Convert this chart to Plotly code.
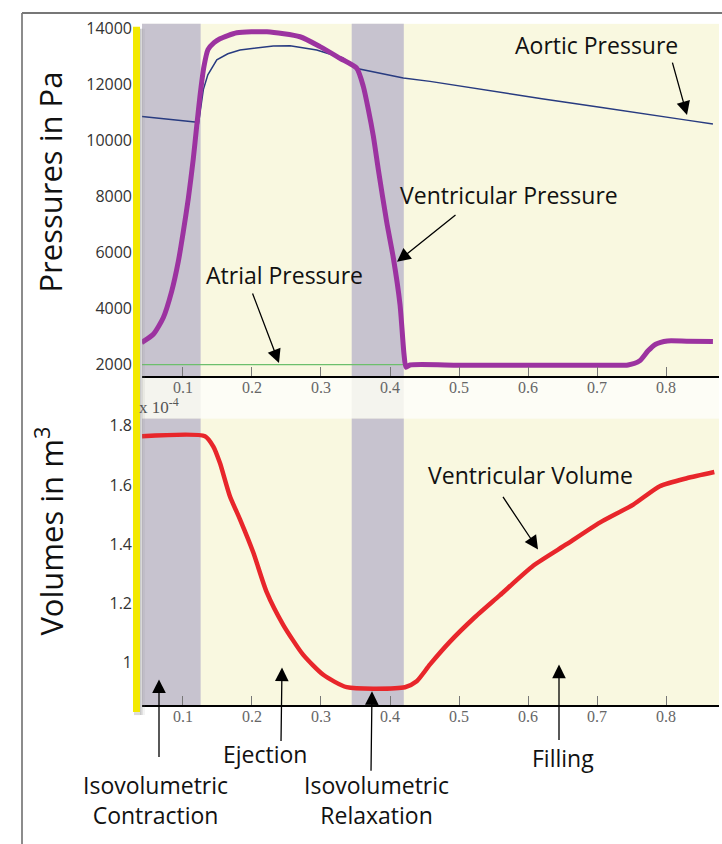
import plotly.graph_objects as go

# ---------------- data ----------------
# time in s
t_vent_p = [0.0401, 0.057, 0.0714, 0.0836, 0.0932, 0.1004, 0.1077, 0.1149, 0.1199, 0.1246,
            0.1304, 0.1362, 0.145, 0.1536, 0.178, 0.2217, 0.2696, 0.2986, 0.3275, 0.3517,
            0.3613, 0.3686, 0.3758, 0.3831, 0.3952, 0.4048, 0.4145, 0.4203, 0.4232,
            0.429, 0.50, 0.60, 0.70, 0.745, 0.762, 0.774, 0.785, 0.802, 0.83, 0.868]
vent_pressure = [2792, 3086, 3677, 4619, 5681, 6743, 7925, 9341, 10520, 11582,
                 12644, 13246, 13494, 13636, 13848, 13883, 13706, 13352, 12938, 12584,
                 11936, 11111, 10166, 8967, 7097, 5818, 4148, 2378, 1907,
                 1990, 1985, 1985, 1985, 1990, 2140, 2495, 2732, 2849, 2840, 2828]

t_aortic = [0.0377, 0.0667, 0.0957, 0.1174, 0.1225, 0.126, 0.1295, 0.136, 0.149, 0.165,
            0.1826, 0.2309, 0.2551, 0.2938, 0.3324, 0.354, 0.3855, 0.4193, 0.458, 0.5304,
            0.6200, 0.7043, 0.7700, 0.83, 0.868]
aortic_pressure = [10871, 10800, 10733, 10662, 10620, 11200, 11819, 12350, 12881, 13100,
                   13235, 13377, 13388, 13235, 12938, 12563, 12407, 12230, 12113, 11830,
                   11497, 11189, 10960, 10730, 10591]

t_atrial = [0.0406, 0.4203]
atrial_pressure = [2000, 2000]

t_volume = [0.0406, 0.1319, 0.144, 0.1536, 0.168, 0.1826, 0.2019, 0.2213, 0.2454, 0.2743,
            0.3033, 0.3372, 0.4217, 0.4387, 0.458, 0.487, 0.521, 0.559, 0.608, 0.656,
            0.704, 0.7526, 0.791, 0.83, 0.870]
vent_volume = [1.765, 1.765, 1.730, 1.674, 1.562, 1.484, 1.372, 1.238, 1.127, 1.026,
               0.959, 0.917, 0.917, 0.937, 0.994, 1.071, 1.149, 1.227, 1.328, 1.400,
               1.473, 1.534, 1.596, 1.623, 1.644]

# cardiac phases (gray bands): isovolumetric contraction, isovolumetric relaxation
gray_phases = [(0.0406, 0.1256), (0.3445, 0.4200)]

x_range = [0.0406, 0.8768]
p_range = [1600, 14166]
v_range = [0.8563, 1.8245]
p_ticks = [2000, 4000, 6000, 8000, 10000, 12000, 14000]
v_ticks = [1.0, 1.2, 1.4, 1.6, 1.8]
v_tick_text = ["1", "1.2", "1.4", "1.6", "1.8"]
x_ticks = [0.1, 0.2, 0.3, 0.4, 0.5, 0.6, 0.7, 0.8]

# ---------------- layout helpers ----------------
W, H = 722, 844
def px(x):
    return x / W
def py(y):
    return 1 - y / H

YELLOW_BG = "#f9f8e0"
GRAY_BAND = "#c7c3cf"
TXT = "#111111"
ANN_FONT = dict(family="Open Sans", size=23, color=TXT)

fig = go.Figure()
fig.add_trace(go.Scatter(x=t_aortic, y=aortic_pressure, mode="lines",
                         line=dict(color="#283b80", width=1.5), xaxis="x", yaxis="y"))
fig.add_trace(go.Scatter(x=t_atrial, y=atrial_pressure, mode="lines",
                         line=dict(color="#6cbf6c", width=1.3), xaxis="x", yaxis="y"))
fig.add_trace(go.Scatter(x=t_vent_p, y=vent_pressure, mode="lines",
                         line=dict(color="#9c33a0", width=5, shape="spline", smoothing=0.6),
                         xaxis="x", yaxis="y"))
fig.add_trace(go.Scatter(x=t_volume, y=vent_volume, mode="lines",
                         line=dict(color="#e8262b", width=4.5, shape="spline", smoothing=0.6),
                         xaxis="x2", yaxis="y2"))

shapes = []
for (a, b) in gray_phases:
    for xr, yr in (("x", "y domain"), ("x2", "y2 domain")):
        shapes.append(dict(type="rect", xref=xr, yref=yr, x0=a, x1=b, y0=0, y1=1,
                           fillcolor=GRAY_BAND, line=dict(width=0), layer="below"))
    # faint band in the gap between panels
    shapes.append(dict(type="rect", xref="x", yref="paper", x0=a, x1=b,
                       y0=py(415), y1=py(373), fillcolor=GRAY_BAND, opacity=0.22,
                       line=dict(width=0), layer="below"))
shapes.append(dict(type="rect", xref="x", yref="paper", x0=x_range[0], x1=x_range[1],
                   y0=py(415), y1=py(373), fillcolor=YELLOW_BG, opacity=0.3,
                   line=dict(width=0), layer="below"))
# frame
shapes.append(dict(type="line", xref="paper", yref="paper", x0=px(22), x1=px(22),
                   y0=0, y1=py(6), line=dict(color="#666666", width=1.5), layer="above"))
shapes.append(dict(type="line", xref="paper", yref="paper", x0=px(22), x1=1,
                   y0=py(6), y1=py(6), line=dict(color="#777777", width=2), layer="above"))
# yellow bar with shadow
for (x0, x1, op) in ((140, 141.5, 0.45), (141.5, 143, 0.25), (143, 145, 0.1)):
    shapes.append(dict(type="rect", xref="paper", yref="paper", x0=px(x0), x1=px(x1),
                       y0=py(714), y1=py(22), fillcolor="#888888", opacity=op,
                       line=dict(width=0), layer="above"))
shapes.append(dict(type="rect", xref="paper", yref="paper", x0=px(134), x1=px(140),
                   y0=py(714), y1=py(711), fillcolor="#888888", opacity=0.3,
                   line=dict(width=0), layer="above"))
shapes.append(dict(type="rect", xref="paper", yref="paper", x0=px(133), x1=px(140),
                   y0=py(711), y1=py(20), fillcolor="#f3e900",
                   line=dict(width=0), layer="above"))

annotations = []
# axis titles
annotations.append(dict(text="Pressures in Pa", x=px(50), y=py(177), xref="paper", yref="paper",
                        xanchor="center", yanchor="middle",
                        textangle=-90, showarrow=False,
                        font=dict(family="Open Sans", size=31, color=TXT)))
annotations.append(dict(text="Volumes in m<sup>3</sup>", x=px(50), y=py(529), xref="paper",
                        yref="paper", xanchor="center", yanchor="middle",
                        textangle=-90, showarrow=False,
                        font=dict(family="Open Sans", size=31, color=TXT)))
annotations.append(dict(text="x 10<sup>-4</sup>", x=px(137), y=py(402), xref="paper",
                        yref="paper", xanchor="left", yanchor="middle", showarrow=False,
                        font=dict(family="Liberation Serif", size=17, color="#555555")))

labels = [
    ("Aortic Pressure", 596.5, 38),
    ("Ventricular Pressure", 509, 190),
    ("Atrial Pressure", 284, 270),
    ("Ventricular Volume", 530, 472),
    ("Isovolumetric<br>Contraction", 155, 799.5),
    ("Ejection", 265, 753),
    ("Isovolumetric<br>Relaxation", 376, 799.5),
    ("Filling", 563, 757),
]
for (txt, x, y) in labels:
    annotations.append(dict(text=txt, x=px(x), y=py(y), xref="paper", yref="paper",
                            xanchor="center", yanchor="middle",
                            showarrow=False, font=ANN_FONT))

arrows = [
    ((672, 55), (687, 109)),
    ((457, 209), (397, 257)),
    ((252, 288), (279, 359)),
    ((502, 493), (538, 547)),
    ((159, 757), (159, 678)),
    ((281, 741), (282, 666)),
    ((371, 771), (372, 690)),
    ((559, 740), (559, 663)),
]
for (tail, head) in arrows:
    annotations.append(dict(text="", x=px(head[0]), y=py(head[1]), xref="paper", yref="paper",
                            ax=tail[0] - head[0], ay=tail[1] - head[1],
                            axref="pixel", ayref="pixel", showarrow=True,
                            arrowhead=2, arrowsize=2.1, arrowwidth=1.3, arrowcolor="black",
                            standoff=0, startstandoff=0))

xdom = [px(142), px(719)]
xaxis_common = dict(range=x_range, tickvals=x_ticks, ticktext=[f"{v:.1f}" for v in x_ticks],
                    ticks="inside", ticklen=9, tickcolor="#777777", tickwidth=1,
                    showline=True, linecolor="black", linewidth=1.5, showgrid=False,
                    zeroline=False, ticklabelstandoff=-4,
                    tickfont=dict(family="Liberation Serif", size=16, color="#666666"))
yaxis_common = dict(showline=False, ticks="", showgrid=False, zeroline=False,
                    ticklabelstandoff=9,
                    tickfont=dict(family="Open Sans", size=16, color="#333333"))

fig.update_layout(
    width=W, height=H, margin=dict(l=0, r=0, t=0, b=0),
    paper_bgcolor="white", plot_bgcolor=YELLOW_BG, showlegend=False,
    xaxis=dict(domain=xdom, anchor="y", **xaxis_common),
    yaxis=dict(domain=[py(372), py(17)], anchor="x", range=p_range, tickvals=p_ticks,
               tickformat="d", **yaxis_common),
    xaxis2=dict(domain=xdom, anchor="y2", **xaxis_common),
    yaxis2=dict(domain=[py(704), py(415)], anchor="x2", range=v_range, tickvals=v_ticks,
                ticktext=v_tick_text, **yaxis_common),
    shapes=shapes, annotations=annotations,
)

fig.write_html("out.html")
